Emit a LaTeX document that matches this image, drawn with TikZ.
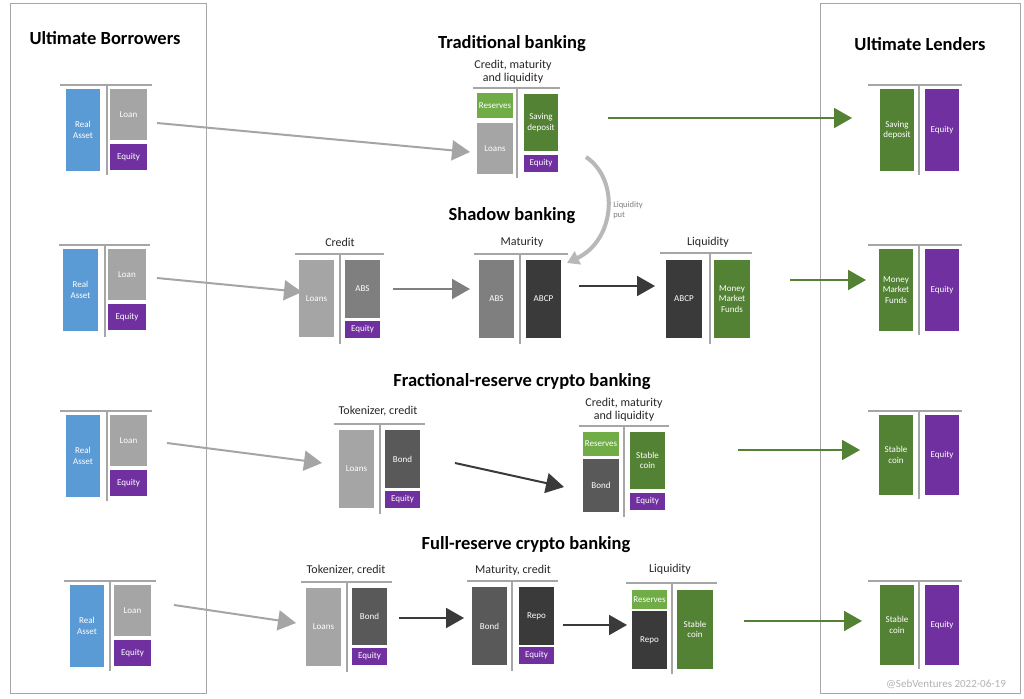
\documentclass[tikz,border=0pt]{standalone}
\usepackage{fontspec}
\setmainfont{Carlito}
\usetikzlibrary{arrows.meta}
\definecolor{cblue}{HTML}{5B9BD5}
\definecolor{cgray}{HTML}{A5A5A5}
\definecolor{cmid}{HTML}{7F7F7F}
\definecolor{cdark}{HTML}{595959}
\definecolor{cdarker}{HTML}{3A3A3A}
\definecolor{cpurple}{HTML}{7030A0}
\definecolor{cgreen}{HTML}{548235}
\definecolor{clgreen}{HTML}{70AD47}
\definecolor{cbar}{HTML}{A6A6A6}
\newcommand{\bx}[7]{\node[box,fill=#6,minimum width={(#4-#2)*1pt},minimum height={(#5-#3)*1pt}] (#1) at ({(#2+#4)/2},{(#3+#5)/2}) {#7};}
\newcommand{\tee}[5]{\draw[tbar] (#2,#3) -- (#4,#3); \draw[tbar] (#1,#3) -- (#1,#5);}
\begin{document}
\begin{tikzpicture}[x=1pt,y=-1pt,
  box/.style={draw=none,inner sep=0pt,text=white,align=center,font=\fontsize{9}{10.5}\selectfont},
  tbar/.style={cbar,line width=2pt},
  ttl/.style={font=\fontsize{18.5}{20}\selectfont\bfseries},
  lbl/.style={font=\fontsize{12}{13.5}\selectfont,align=center,text=black!85},
  arr/.style={line width=2pt,-{Triangle[length=18pt,width=20pt]}}]
\path[fill=white] (0,0) rectangle (1024,698);
\draw[cbar,line width=0.8pt] (10,3) rectangle (206,693);
\draw[cbar,line width=0.8pt] (820,3) rectangle (1020,693);
\node[ttl] (t1) at (105,38) {Ultimate Borrowers};
\node[ttl] (t2) at (920,44) {Ultimate Lenders};
\node[ttl] (t3) at (512,44) {Traditional banking};
\node[ttl] (t4) at (512,216) {Shadow banking};
\node[ttl] (t5) at (522,382) {Fractional-reserve crypto banking};
\node[ttl] (t6) at (526,545) {Full-reserve crypto banking};
% borrowers
\tee{107}{60}{85}{152}{175}
\bx{ra1}{66}{89}{100}{171}{cblue}{Real\\Asset}
\bx{lo1}{110}{89}{147}{140}{cgray}{Loan}
\bx{eq1}{110}{144}{147}{170}{cpurple}{Equity}
\tee{105}{59}{245}{150}{337}
\bx{ra2}{63}{249}{98}{331}{cblue}{Real\\Asset}
\bx{lo2}{108}{249}{146}{300}{cgray}{Loan}
\bx{eq2}{108}{304}{146}{330}{cpurple}{Equity}
\tee{107}{60}{411}{152}{501}
\bx{ra3}{66}{415}{100}{497}{cblue}{Real\\Asset}
\bx{lo3}{110}{415}{147}{466}{cgray}{Loan}
\bx{eq3}{110}{470}{147}{496}{cpurple}{Equity}
\tee{110}{64}{581}{156}{671}
\bx{ra4}{70}{585}{104}{667}{cblue}{Real\\Asset}
\bx{lo4}{114}{585}{151}{636}{cgray}{Loan}
\bx{eq4}{114}{640}{151}{666}{cpurple}{Equity}
% lenders
\tee{919}{868}{85}{962}{175}
\bx{sd5}{880}{89}{914}{171}{cgreen}{Saving\\deposit}
\bx{le1}{925}{89}{959}{171}{cpurple}{Equity}
\tee{919}{868}{245}{962}{335}
\bx{mm5}{879}{249}{913}{331}{cgreen}{Money\\Market\\Funds}
\bx{le2}{925}{249}{959}{331}{cpurple}{Equity}
\tee{919}{868}{411}{962}{499}
\bx{sc5}{879}{415}{913}{495}{cgreen}{Stable\\coin}
\bx{le3}{925}{415}{959}{495}{cpurple}{Equity}
\tee{919}{868}{581}{962}{669}
\bx{sc6}{880}{585}{914}{665}{cgreen}{Stable\\coin}
\bx{le4}{925}{585}{959}{665}{cpurple}{Equity}
% traditional
\node[lbl] (l1) at (513,72) {Credit, maturity\\and liquidity};
\tee{517}{473}{88}{560}{178}
\bx{tr}{477}{93}{513}{118}{clgreen}{Reserves}
\bx{tl}{477}{123}{513}{174}{cgray}{Loans}
\bx{ts}{524}{94}{558}{151}{cgreen}{Saving\\deposit}
\bx{te}{524}{155}{558}{172}{cpurple}{Equity}
% shadow
\node[lbl] (l2) at (340,242) {Credit};
\tee{340}{295}{254}{384}{344}
\bx{sl}{299}{260}{334}{337}{cgray}{Loans}
\bx{sa}{345}{260}{380}{318}{cmid}{ABS}
\bx{se}{345}{321}{380}{338}{cpurple}{Equity}
\node[lbl] (l3) at (522,242) {Maturity};
\tee{520}{474}{254}{568}{344}
\bx{ma}{479}{260}{514}{338}{cmid}{ABS}
\bx{mc}{526}{260}{561}{338}{cdarker}{ABCP}
\node[lbl] (l4) at (708,242) {Liquidity};
\tee{710}{660}{253}{752}{344}
\bx{qc}{666}{260}{702}{338}{cdarker}{ABCP}
\bx{qm}{714}{260}{750}{338}{cgreen}{Money\\Market\\Funds}
% fractional
\node[lbl] (l5) at (378,411) {Tokenizer, credit};
\tee{380}{334}{424}{425}{514}
\bx{fl}{339}{430}{374}{508}{cgray}{Loans}
\bx{fb}{385}{430}{420}{488}{cdark}{Bond}
\bx{fe}{385}{491}{420}{508}{cpurple}{Equity}
\node[lbl] (l6) at (624,410) {Credit, maturity\\and liquidity};
\tee{624}{579}{426}{669}{517}
\bx{gr}{583}{432}{619}{456}{clgreen}{Reserves}
\bx{gb}{583}{459}{619}{512}{cdark}{Bond}
\bx{gs}{630}{432}{665}{489}{cgreen}{Stable\\coin}
\bx{ge}{630}{493}{665}{510}{cpurple}{Equity}
% full
\node[lbl] (l7) at (346,570) {Tokenizer, credit};
\tee{347}{301}{582}{392}{672}
\bx{hl}{306}{588}{341}{666}{cgray}{Loans}
\bx{hb}{352}{588}{387}{645}{cdark}{Bond}
\bx{he}{352}{648}{387}{665}{cpurple}{Equity}
\node[lbl] (l8) at (513,570) {Maturity, credit};
\tee{512}{467}{581}{558}{671}
\bx{ib}{472}{587}{507}{665}{cdark}{Bond}
\bx{ir}{519}{587}{554}{645}{cdarker}{Repo}
\bx{ie}{519}{647}{554}{664}{cpurple}{Equity}
\node[lbl] (l9) at (670,569) {Liquidity};
\tee{672}{626}{583}{717}{674}
\bx{jr}{632}{590}{667}{609}{clgreen}{Reserves}
\bx{jp}{632}{611}{667}{669}{cdarker}{Repo}
\bx{js}{677}{590}{713}{669}{cgreen}{Stable\\coin}
% arrows
\coordinate (a1s) at (157,123); \coordinate (a1e) at (470,152);
\draw[arr,cgray] (a1s) -- (a1e);
\coordinate (a2s) at (608,118); \coordinate (a2e) at (852,118);
\draw[arr,cgreen] (a2s) -- (a2e);
\coordinate (a3s) at (586,157); \coordinate (a3e) at (567,263);
\draw[line width=4pt,cbar!80,-{Triangle[length=12pt,width=14pt]}] (a3s) .. controls (620,180) and (615,240) .. (a3e);
\node[font=\fontsize{8.5}{9.5}\selectfont,text=cmid,align=left] (lp) at (628,210) {Liquidity\\put};
\coordinate (b1s) at (157,278); \coordinate (b1e) at (302,292);
\draw[arr,cgray] (b1s) -- (b1e);
\coordinate (b2s) at (393,289); \coordinate (b2e) at (470,289);
\draw[arr,cmid] (b2s) -- (b2e);
\coordinate (b3s) at (579,286); \coordinate (b3e) at (655,286);
\draw[arr,cdarker] (b3s) -- (b3e);
\coordinate (b4s) at (790,280); \coordinate (b4e) at (866,280);
\draw[arr,cgreen] (b4s) -- (b4e);
\coordinate (c1s) at (167,443); \coordinate (c1e) at (322,463);
\draw[arr,cgray] (c1s) -- (c1e);
\coordinate (c2s) at (455,463); \coordinate (c2e) at (564,487);
\draw[arr,cdarker] (c2s) -- (c2e);
\coordinate (c3s) at (738,450); \coordinate (c3e) at (860,450);
\draw[arr,cgreen] (c3s) -- (c3e);
\coordinate (d1s) at (174,605); \coordinate (d1e) at (296,623);
\draw[arr,cgray] (d1s) -- (d1e);
\coordinate (d2s) at (399,618); \coordinate (d2e) at (464,618);
\draw[arr,cdarker] (d2s) -- (d2e);
\coordinate (d3s) at (563,625); \coordinate (d3e) at (627,625);
\draw[arr,cdarker] (d3s) -- (d3e);
\coordinate (d4s) at (744,621); \coordinate (d4e) at (862,621);
\draw[arr,cgreen] (d4s) -- (d4e);
\node[font=\fontsize{11}{12}\selectfont,text=black!30] (wm) at (946,684) {@SebVentures 2022-06-19};
\end{tikzpicture}
\end{document}
